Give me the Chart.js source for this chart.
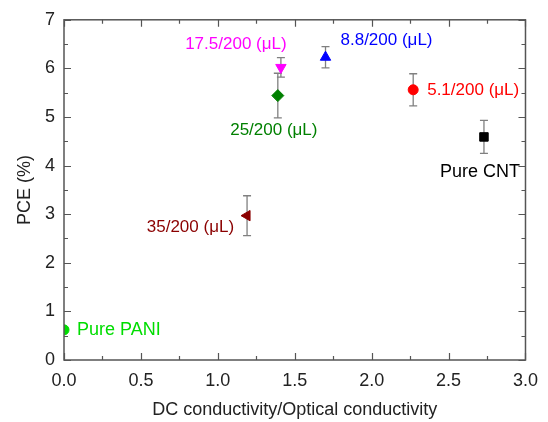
<!DOCTYPE html>
<html>
<head>
<meta charset="utf-8">
<script src="https://cdn.jsdelivr.net/npm/chart.js@4.4.1/dist/chart.umd.min.js"></script>
<style>
  html, body { margin: 0; padding: 0; background: #fff; }
  #wrap { width: 548px; height: 422px; }
</style>
</head>
<body>
<div id="wrap"><canvas id="grafico"></canvas></div>
<script>
// valores (x = razão DC/óptica, y = PCE %)
const razaoCondutividade = [0.00, 1.19, 1.39, 1.41, 1.70, 2.27, 2.73];
const pce = [0.62, 2.97, 5.44, 6.02, 6.23, 5.56, 4.59];
const erroPce = [0, 0.41, 0.46, 0.20, 0.22, 0.33, 0.34];
const amostras = ['Pure PANI', '35/200 (μL)', '25/200 (μL)', '17.5/200 (μL)', '8.8/200 (μL)', '5.1/200 (μL)', 'Pure CNT'];
const ticksX = [0.0, 0.5, 1.0, 1.5, 2.0, 2.5, 3.0];
const ticksY = [0, 1, 2, 3, 4, 5, 6, 7];

// estilo de cada amostra (marcador e posição do rótulo em px em relação ao ponto)
const estilos = [
    { cor: '#00dd00', forma: 'circle',   raio: 5, rot: 0,   alinha: 'left',   dx: 13,  dy: 0,  tam: 18 },
    { cor: '#8b0000', forma: 'triangle', raio: 6, rot: -90, alinha: 'right',  dx: -13, dy: 12, tam: 17 },
    { cor: '#008000', forma: 'rectRot',  raio: 6, rot: 0,   alinha: 'center', dx: -4,  dy: 35, tam: 17 },
    { cor: '#ff00ff', forma: 'triangle', raio: 6, rot: 180, alinha: 'center', dx: -45, dy: -23, tam: 17 },
    { cor: '#0000ff', forma: 'triangle', raio: 6, rot: 0,   alinha: 'left',   dx: 15,  dy: -17, tam: 17 },
    { cor: '#ff0000', forma: 'circle',   raio: 5, rot: 0,   alinha: 'left',   dx: 14,  dy: 1,  tam: 17 },
    { cor: '#000000', forma: 'rect',     raio: 6, rot: 0,   alinha: 'center', dx: -4,  dy: 35, tam: 18 },
];

const fonte = 'Liberation Sans, Arial, sans-serif';
const corEixo = '#555';

// Um dataset por amostra, para cada uma ter seu marcador.
const dataSet = amostras.map((nome, i) => ({
    label: nome,
    data: [{ x: razaoCondutividade[i], y: pce[i] }],
    pointStyle: estilos[i].forma,
    pointRotation: estilos[i].rot,
    pointRadius: estilos[i].raio,
    pointHoverRadius: estilos[i].raio,
    backgroundColor: estilos[i].cor,
    borderColor: estilos[i].cor,
    borderWidth: 1,
}));

// Barras de erro, rótulos, ticks internos e moldura
const pluginExtras = {
    id: 'extras',
    beforeDatasetsDraw(chart) {
        const ctx = chart.ctx;
        const sx = chart.scales.x, sy = chart.scales.y;
        ctx.save();
        ctx.strokeStyle = '#808080';
        ctx.lineWidth = 1.3;
        razaoCondutividade.forEach((x, i) => {
            if (!erroPce[i]) return;
            const px = sx.getPixelForValue(x);
            const y1 = sy.getPixelForValue(pce[i] + erroPce[i]);
            const y2 = sy.getPixelForValue(pce[i] - erroPce[i]);
            ctx.beginPath();
            ctx.moveTo(px, y1); ctx.lineTo(px, y2);
            ctx.moveTo(px - 4, y1); ctx.lineTo(px + 4, y1);
            ctx.moveTo(px - 4, y2); ctx.lineTo(px + 4, y2);
            ctx.stroke();
        });
        ctx.restore();
    },
    afterDatasetsDraw(chart) {
        const ctx = chart.ctx;
        const area = chart.chartArea;
        const sx = chart.scales.x, sy = chart.scales.y;
        ctx.save();

        // moldura
        ctx.strokeStyle = corEixo;
        ctx.lineWidth = 1.5;
        ctx.strokeRect(area.left, area.top, area.right - area.left, area.bottom - area.top);

        // ticks para dentro (maiores e menores)
        ctx.lineWidth = 1.2;
        ctx.beginPath();
        for (let v = 0; v <= 3.0001; v += 0.25) {
            const px = Math.round(sx.getPixelForValue(v)) + 0.5;
            const len = Math.abs(v * 2 - Math.round(v * 2)) < 0.01 ? 7 : 4;
            ctx.moveTo(px, area.bottom); ctx.lineTo(px, area.bottom - len);
            ctx.moveTo(px, area.top); ctx.lineTo(px, area.top + len);
        }
        for (let v = 0; v <= 7.0001; v += 0.5) {
            const py = Math.round(sy.getPixelForValue(v)) + 0.5;
            const len = Math.abs(v - Math.round(v)) < 0.01 ? 7 : 4;
            ctx.moveTo(area.left, py); ctx.lineTo(area.left + len, py);
            ctx.moveTo(area.right, py); ctx.lineTo(area.right - len, py);
        }
        ctx.stroke();

        // rótulos das amostras
        ctx.textBaseline = 'middle';
        amostras.forEach((nome, i) => {
            const px = sx.getPixelForValue(razaoCondutividade[i]);
            const py = sy.getPixelForValue(pce[i]);
            ctx.font = estilos[i].tam + 'px ' + fonte;
            ctx.fillStyle = estilos[i].cor;
            ctx.textAlign = estilos[i].alinha;
            ctx.fillText(nome, px + estilos[i].dx, py + estilos[i].dy);
        });
        ctx.restore();
    }
};

const config = {
    type: 'scatter',
    data: { datasets: dataSet },
    options: {
        responsive: true,
        maintainAspectRatio: false,
        animation: false,
        layout: { padding: { top: 16, right: 21, left: 0, bottom: 0 } },
        plugins: {
            legend: { display: false },
            tooltip: { enabled: false },
        },
        scales: {
            x: {
                type: 'linear',
                min: 0, max: 3,
                afterBuildTicks: (scale) => { scale.ticks = ticksX.map(v => ({ value: v })); },
                afterFit: (scale) => { scale.height = 62; },
                grid: { display: false, drawTicks: false },
                border: { display: false },
                ticks: {
                    padding: 10,
                    color: '#222',
                    font: { family: fonte, size: 18 },
                    callback: (v) => Number(v).toFixed(1),
                    maxRotation: 0,
                },
                title: {
                    display: true,
                    text: 'DC conductivity/Optical conductivity',
                    color: '#222',
                    font: { family: fonte, size: 18 },
                    padding: { top: 0, bottom: 1 },
                },
            },
            y: {
                type: 'linear',
                min: 0, max: 7,
                afterBuildTicks: (scale) => { scale.ticks = ticksY.map(v => ({ value: v })); },
                afterFit: (scale) => { scale.width = 64; },
                grid: { display: false, drawTicks: false },
                border: { display: false },
                ticks: {
                    padding: 9,
                    color: '#222',
                    font: { family: fonte, size: 18 },
                },
                title: {
                    display: true,
                    text: 'PCE (%)',
                    color: '#222',
                    font: { family: fonte, size: 18 },
                    padding: { top: 14, bottom: 0 },
                },
            },
        },
    },
    plugins: [pluginExtras],
};

const myChart = new Chart(document.getElementById('grafico'), config);
</script>
</body>
</html>
